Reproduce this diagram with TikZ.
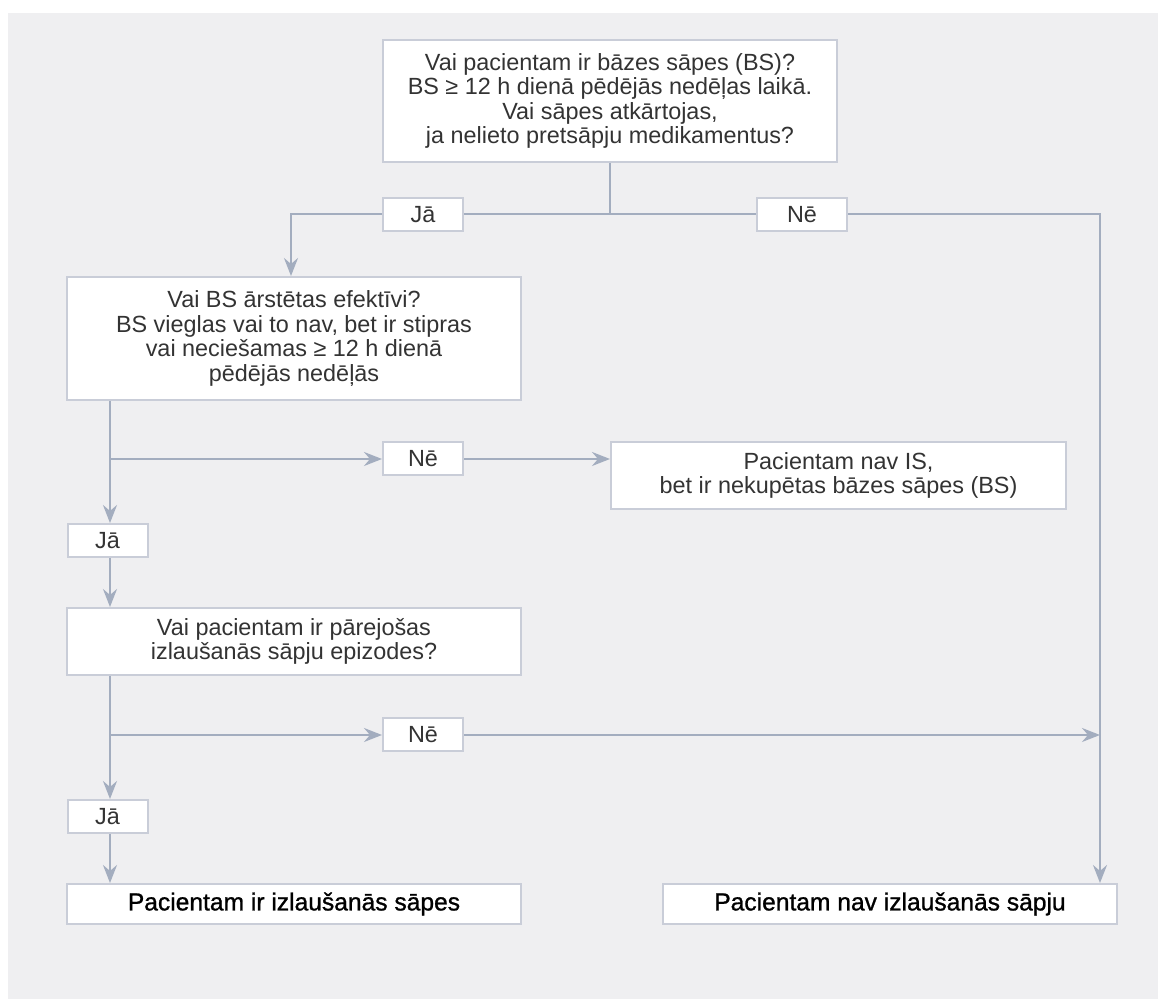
\documentclass[tikz,border=0pt]{standalone}
\usepackage{fontspec}
\setmainfont{Liberation Sans}
\newfontfamily\outfont[FakeBold=1]{Liberation Sans}
\usepackage{xcolor}
\definecolor{pagebg}{HTML}{EFEFF1}
\definecolor{boxline}{HTML}{C9CDD8}
\definecolor{linkcol}{HTML}{A3ADBF}
\definecolor{bodytext}{HTML}{333333}
\usetikzlibrary{arrows.meta,positioning,calc}

\tikzset{
  qbox/.style={draw=boxline, line width=1pt, fill=white, align=center, text=bodytext,
    font=\fontsize{11.7}{12.2}\selectfont, inner sep=0pt},
  ansbox/.style={qbox, minimum width=40pt, minimum height=16.5pt},
  outbox/.style={qbox, minimum width=227pt, minimum height=20pt, text=black,
    font=\outfont\fontsize{12.3}{13}\selectfont},
  link/.style={draw=linkcol, line width=1pt},
  arrow/.style={link, -{Stealth[length=9pt, width=7pt, inset=3pt]}}
}

\begin{document}
\begin{tikzpicture}[x=0.5pt, y=-0.5pt]
  % page
  \useasboundingbox (0,0) rectangle (1158,999);
  \fill[pagebg] (8,13) rectangle (1158,999);

  % questions
  \node[qbox, minimum width=227pt, minimum height=61pt] (q1) at (610,101)
    {Vai pacientam ir bāzes sāpes (BS)?\\BS ≥ 12 h dienā pēdējās nedēļas laikā.\\Vai sāpes atkārtojas,\\ja nelieto pretsāpju medikamentus?};
  \node[qbox, minimum width=227pt, minimum height=61.5pt] (q2) at (294,338.5)
    {Vai BS ārstētas efektīvi?\\BS vieglas vai to nav, bet ir stipras\\vai neciešamas ≥ 12 h dienā\\pēdējās nedēļās};
  \node[qbox, minimum width=227pt, minimum height=33.5pt] (q3) at (294,641.5)
    {Vai pacientam ir pārejošas\\izlaušanās sāpju epizodes?};
  \node[qbox, minimum width=227.5pt, minimum height=33.5pt] (r1) at (838.5,475.5)
    {Pacientam nav IS,\\bet ir nekupētas bāzes sāpes (BS)};

  % answers
  \node[ansbox] (ja1) at (423,214.5) {Jā};
  \node[ansbox, minimum width=45pt] (ne1) at (802,214.5) {Nē};
  \node[ansbox] (ne2) at (423,459) {Nē};
  \node[ansbox] (ja2) at (107.5,540.5) {Jā};
  \node[ansbox] (ne3) at (423,735) {Nē};
  \node[ansbox] (ja3) at (107.5,816.5) {Jā};

  % outcomes
  \node[outbox] (f1) at (294,904) {Pacientam ir izlaušanās sāpes};
  \node[outbox] (f2) at (890,904) {Pacientam nav izlaušanās sāpju};

  % helper points
  \coordinate (c2) at ([xshift=22pt]q2.south west);
  \coordinate (c3) at ([xshift=22pt]q3.south west);
  \coordinate (c4) at ([xshift=-9pt]f2.north east);

  % top split
  \draw[link] (q1.south) -- (q1.south |- ja1.east);
  \draw[link] (ja1.east) -- (ne1.west);
  \draw[arrow] (ja1.west) -| ([xshift=-1.5pt]q2.north);
  \draw[arrow] (ne1.east) -| (c4);

  % second question
  \draw[arrow] (c2) -- (c2 |- ja2.north);
  \draw[arrow] (c2 |- ne2.west) -- (ne2.west);
  \draw[arrow] (ne2.east) -- (r1.west |- ne2.east);
  \draw[arrow] (ja2.south -| c2) -- (q3.north -| c2);

  % third question
  \draw[arrow] (c3) -- (c3 |- ja3.north);
  \draw[arrow] (c3 |- ne3.west) -- (ne3.west);
  \draw[arrow] (ne3.east) -- (ne3.east -| c4);
  \draw[arrow] (ja3.south -| c3) -- (f1.north -| c3);
\end{tikzpicture}
\end{document}
